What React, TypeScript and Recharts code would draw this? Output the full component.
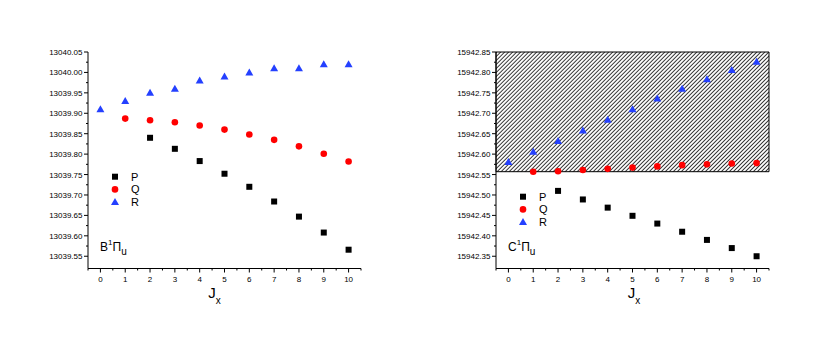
import React from 'react';
import { ScatterChart, Scatter, XAxis, YAxis, ReferenceArea } from 'recharts';

// rotational quantum number
const jValues = [0, 1, 2, 3, 4, 5, 6, 7, 8, 9, 10];

// B1Πu term values (null = no line)
const bP = [null, null, 13039.84, 13039.813, 13039.783, 13039.752, 13039.72, 13039.684, 13039.647, 13039.608, 13039.566];
const bQ = [null, 13039.887, 13039.883, 13039.878, 13039.87, 13039.86, 13039.848, 13039.835, 13039.819, 13039.801, 13039.782];
const bR = [13039.91, 13039.93, 13039.95, 13039.96, 13039.98, 13039.99, 13040.0, 13040.01, 13040.01, 13040.02, 13040.02];

// C1Πu term values
const cP = [null, null, 15942.51, 15942.489, 15942.469, 15942.449, 15942.43, 15942.41, 15942.39, 15942.37, 15942.35];
const cQ = [null, 15942.557, 15942.558, 15942.561, 15942.564, 15942.567, 15942.57, 15942.573, 15942.575, 15942.577, 15942.578];
const cR = [15942.581, 15942.606, 15942.632, 15942.658, 15942.684, 15942.71, 15942.736, 15942.76, 15942.783, 15942.806, 15942.826];

// ticks
const xMajorTicks = [0, 1, 2, 3, 4, 5, 6, 7, 8, 9, 10];
const xMinorTicks = [-0.5, 0.5, 1.5, 2.5, 3.5, 4.5, 5.5, 6.5, 7.5, 8.5, 9.5, 10.5];
const bYMajor = [13039.55, 13039.6, 13039.65, 13039.7, 13039.75, 13039.8, 13039.85, 13039.9, 13039.95, 13040.0, 13040.05];
const bYMinor = [13039.575, 13039.625, 13039.675, 13039.725, 13039.775, 13039.825, 13039.875, 13039.925, 13039.975, 13040.025];
const cYMajor = [15942.35, 15942.4, 15942.45, 15942.5, 15942.55, 15942.6, 15942.65, 15942.7, 15942.75, 15942.8, 15942.85];
const cYMinor = [15942.375, 15942.425, 15942.475, 15942.525, 15942.575, 15942.625, 15942.675, 15942.725, 15942.775, 15942.825];

const FONT = '"Liberation Sans", Arial, sans-serif';
const BLUE = '#2440ff';
const RED = '#ff0000';

function toPoints(values: (number | null)[]) {
  return jValues
    .map((j, i) => ({ j, v: values[i] }))
    .filter(d => d.v !== null);
}

const SquareShape = (p: any) => <rect x={p.cx - 3} y={p.cy - 3} width={6} height={6} fill="#000" />;
const CircleShape = (p: any) => <circle cx={p.cx} cy={p.cy} r={3.3} fill={RED} />;
const TriangleShape = (p: any) => (
  <polygon points={`${p.cx},${p.cy - 4} ${p.cx + 4},${p.cy + 3} ${p.cx - 4},${p.cy + 3}`} fill={BLUE} />
);

const XTick = (p: any) => {
  const major = xMajorTicks.includes(p.payload.value);
  return (
    <g>
      <line x1={p.x} x2={p.x} y1={p.y} y2={p.y + (major ? 4 : 2)} stroke="#000" />
      {major && (
        <text x={p.x} y={p.y + 13.5} textAnchor="middle" fontSize={8} fill="#000" fontFamily={FONT}>
          {p.payload.value}
        </text>
      )}
    </g>
  );
};

const makeYTick = (majors: number[]) => (p: any) => {
  const major = majors.includes(p.payload.value);
  return (
    <g>
      <line x1={p.x - (major ? 4 : 2)} x2={p.x} y1={p.y} y2={p.y} stroke="#000" />
      {major && (
        <text x={p.x - 5.5} y={p.y + 3} textAnchor="end" fontSize={8} fill="#000" fontFamily={FONT}>
          {p.payload.value.toFixed(2)}
        </text>
      )}
    </g>
  );
};

interface PanelProps {
  left: number;
  p: (number | null)[];
  q: (number | null)[];
  r: (number | null)[];
  yDomain: [number, number];
  yMajor: number[];
  yMinor: number[];
  letter: string;
  legendTop: number;
  labelDx: number;
  hatch?: [number, number];
}

function Panel({ left, p, q, r, yDomain, yMajor, yMinor, letter, legendTop, labelDx, hatch }: PanelProps) {
  const legendRows = [
    { name: 'P', shape: SquareShape },
    { name: 'Q', shape: CircleShape },
    { name: 'R', shape: TriangleShape },
  ];
  return (
    <div style={{ position: 'absolute', left, top: 0, width: 408, height: 354 }}>
      <ScatterChart width={408} height={354} margin={{ top: 52, right: 47, bottom: 55.5, left: 28 }}>
        <XAxis
          type="number"
          dataKey="j"
          domain={[-0.5, 10.5]}
          ticks={[...xMinorTicks, ...xMajorTicks].sort((a, b) => a - b)}
          interval={0}
          tickSize={0}
          tickMargin={0}
          tick={<XTick />}
          height={30}
          stroke="#000"
          allowDataOverflow
          label={{
            content: (lp: any) => {
              const vb = lp.viewBox;
              return (
                <text x={vb.x + vb.width / 2 + labelDx} y={vb.y + 29.5} textAnchor="middle" fontFamily={FONT} fill="#000">
                  <tspan fontSize={15}>J</tspan>
                  <tspan fontSize={10} dy={6}>x</tspan>
                </text>
              );
            },
          }}
        />
        <YAxis
          type="number"
          dataKey="v"
          domain={yDomain}
          ticks={[...yMinor, ...yMajor].sort((a, b) => a - b)}
          interval={0}
          tickSize={0}
          tickMargin={0}
          tick={makeYTick(yMajor)}
          width={60}
          stroke="#000"
          allowDataOverflow
        />
        {hatch && (
          <ReferenceArea
            x1={-0.5}
            x2={10.5}
            y1={hatch[0]}
            y2={hatch[1]}
            fill="url(#hatch)"
            fillOpacity={1}
            stroke="#000"
            strokeWidth={1}
            ifOverflow="visible"
          />
        )}
        <Scatter data={toPoints(p)} shape={SquareShape} isAnimationActive={false} />
        <Scatter data={toPoints(q)} shape={CircleShape} isAnimationActive={false} />
        <Scatter data={toPoints(r)} shape={TriangleShape} isAnimationActive={false} />
      </ScatterChart>
      <svg width={408} height={354} style={{ position: 'absolute', left: 0, top: 0, pointerEvents: 'none' }}>
        {legendRows.map((row, i) => {
          const Shape = row.shape;
          const y = legendTop + i * 12.7;
          return (
            <g key={row.name}>
              <Shape cx={115} cy={y} />
              <text x={131} y={y + 4} fontSize={11} fontFamily={FONT} fill="#000">
                {row.name}
              </text>
            </g>
          );
        })}
        <text x={100} y={251} fontFamily={FONT} fill="#000">
          <tspan fontSize={12}>{letter}</tspan>
          <tspan fontSize={8} dy={-6}>1</tspan>
          <tspan fontSize={12} dy={6}>Π</tspan>
          <tspan fontSize={10} dy={4}>u</tspan>
        </text>
      </svg>
    </div>
  );
}

export default function App() {
  return (
    <div style={{ position: 'absolute', left: 0, top: 0, width: 817, height: 354, background: '#fff', fontFamily: FONT }}>
      <svg width={0} height={0} style={{ position: 'absolute' }}>
        <defs>
          <pattern id="hatch" patternUnits="userSpaceOnUse" width={2.83} height={10} patternTransform="rotate(45)">
            <rect width={2.83} height={10} fill="#fff" />
            <line x1={0.5} y1={0} x2={0.5} y2={10} stroke="#111" strokeWidth={0.85} />
          </pattern>
        </defs>
      </svg>
      <Panel
        left={0}
        p={bP}
        q={bQ}
        r={bR}
        yDomain={[13039.52, 13040.05]}
        yMajor={bYMajor}
        yMinor={bYMinor}
        letter="B"
        legendTop={176.7}
        labelDx={-10}
      />
      <Panel
        left={408}
        p={cP}
        q={cQ}
        r={cR}
        yDomain={[15942.32, 15942.85]}
        yMajor={cYMajor}
        yMinor={cYMinor}
        letter="C"
        legendTop={196.7}
        labelDx={1.5}
        hatch={[15942.557, 15942.85]}
      />
    </div>
  );
}
